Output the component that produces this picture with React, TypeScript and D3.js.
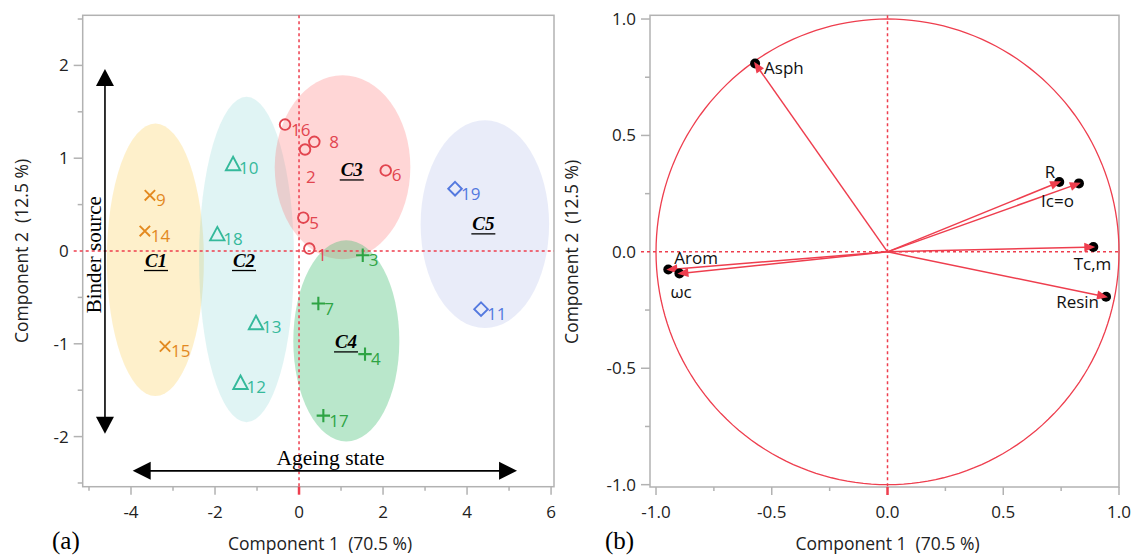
import React from "react";
import * as d3 from "d3";

const W = 1134;
const H = 557;

// (a) score plot: sample id, component 1, component 2, cluster index
const sampleIds = ["1", "2", "3", "4", "5", "6", "7", "8", "9", "10", "11", "12", "13", "14", "15", "16", "17", "18", "19"];
const sampleC1 = [0.245, 0.143, 1.517, 1.571, 0.102, 2.064, 0.46, 0.364, -3.55, -1.57, 4.333, -1.393, -1.024, -3.67, -3.19, -0.333, 0.579, -1.945, 3.714];
const sampleC2 = [0.026, 1.094, -0.046, -1.111, 0.359, 0.868, -0.566, 1.176, 0.6, 0.943, -0.627, -1.415, -0.77, 0.215, -1.028, 1.362, -1.774, 0.187, 0.671];
const sampleCluster = [2, 2, 3, 3, 2, 2, 3, 2, 0, 1, 4, 1, 1, 0, 0, 2, 3, 1, 4];

// cluster ellipses (data units)
const clusterNames = ["C1", "C2", "C3", "C4", "C5"];
const clusterCx = [-3.42, -1.25, 1.036, 1.126, 4.424];
const clusterCy = [-0.095, -0.092, 0.902, -0.969, 0.289];
const clusterRx = [1.155, 1.13, 1.614, 1.262, 1.529];
const clusterRy = [1.468, 1.753, 0.991, 1.084, 1.12];
const clusterLabelX = [-3.405, -1.31, 1.255, 1.119, 4.388];
const clusterLabelY = [-0.108, -0.108, 0.868, -0.985, 0.287];

// (b) loading plot
const loadNames = ["Asph", "R", "Ic=o", "Tc,m", "Resin", "Arom", "ωc"];
const loadX = [-0.572, 0.742, 0.827, 0.889, 0.944, -0.947, -0.899];
const loadY = [0.809, 0.3, 0.294, 0.021, -0.193, -0.076, -0.093];

// ticks
const aMajorX = [-4, -2, 0, 2, 4, 6];
const aMinorX = [-5, -3, -1, 1, 3, 5];
const aMajorY = [-2, -1, 0, 1, 2];
const aMinorY = [-2.5, -1.5, -0.5, 0.5, 1.5, 2.5];
const bMajor = [-1, -0.5, 0, 0.5, 1];
const bMinor = [-0.75, -0.25, 0.25, 0.75];

// styling
const markerColor = ["#e3891f", "#35b99b", "#e2454f", "#2ea444", "#5479df"];
const ellipseColor = ["#fcc52e", "#7fd3cf", "#ff6b6b", "#33b866", "#a7b4e6"];
const ellipseAlpha = [0.25, 0.24, 0.28, 0.34, 0.25];
const RED = "#ee3e4e";
const FRAME = "#b2b2b2";
const SANS = "'Open Sans', 'Noto Sans', sans-serif";
const SERIF = "'Liberation Serif', 'DejaVu Serif', serif";

// label placement for sample numbers [dx, dy]
const sampleLabelOffset: Record<string, [number, number]> = {
  "1": [8, 12],
  "2": [1, 34],
  "8": [15, 6],
};
// loading label placement [anchor, dx, dy]
const loadLabelPos: [string, number, number][] = [
  ["start", 9, 11],
  ["end", -4, -4],
  ["end", -5, 24],
  ["end", 18, 23],
  ["end", -7, 11],
  ["start", 6, -6],
  ["start", -9, 24],
];

const fmtA = (v: number) => String(v).replace("−", "-");
const fmtB = (v: number) => (v < 0 ? "-" : "") + Math.abs(v).toFixed(1);

function Marker({ kind, x, y, color }: { kind: number; x: number; y: number; color: string }) {
  const sw = 1.9;
  if (kind === 0) {
    const s = 5.2;
    return (
      <path d={`M${x - s},${y - s}L${x + s},${y + s}M${x - s},${y + s}L${x + s},${y - s}`} stroke={color} strokeWidth={sw} fill="none" />
    );
  }
  if (kind === 1) {
    const h = 13.5, w = 7.2;
    return (
      <path d={`M${x},${y - h / 2}L${x + w},${y + h / 2}L${x - w},${y + h / 2}Z`} stroke={color} strokeWidth={sw} fill="none" strokeLinejoin="miter" />
    );
  }
  if (kind === 2) return <circle cx={x} cy={y} r={5.3} stroke={color} strokeWidth={sw} fill="none" />;
  if (kind === 3) {
    const s = 6.7;
    return <path d={`M${x - s},${y}L${x + s},${y}M${x},${y - s}L${x},${y + s}`} stroke={color} strokeWidth={2.1} fill="none" />;
  }
  const s = 6.8;
  return <path d={`M${x},${y - s}L${x + s},${y}L${x},${y + s}L${x - s},${y}Z`} stroke={color} strokeWidth={sw} fill="none" />;
}

function Axes({ x, y, majorX, minorX, majorY, minorY, fmt }: any) {
  const [x0, x1] = x.range();
  const [y0, y1] = y.range(); // bottom, top
  return (
    <g>
      <rect x={x0} y={y1} width={x1 - x0} height={y0 - y1} fill="none" stroke={FRAME} strokeWidth={1.5} />
      {majorX.map((v: number) => (
        <g key={"mx" + v}>
          <line x1={x(v)} x2={x(v)} y1={y0} y2={y0 + 8} stroke={v === 0 ? RED : FRAME} strokeWidth={v === 0 ? 2.5 : 1.5} />
          <text x={x(v)} y={y0 + 31} textAnchor="middle" fontFamily={SANS} fontSize={17} fill="#222">
            {fmt(v)}
          </text>
        </g>
      ))}
      {minorX.map((v: number) => (
        <line key={"nx" + v} x1={x(v)} x2={x(v)} y1={y0} y2={y0 + 4} stroke={FRAME} strokeWidth={1.5} />
      ))}
      {majorY.map((v: number) => (
        <g key={"my" + v}>
          {v !== 0 && <line x1={x0 - 9} x2={x0} y1={y(v)} y2={y(v)} stroke={FRAME} strokeWidth={1.5} />}
          <text x={x0 - 14} y={y(v) + 6} textAnchor="end" fontFamily={SANS} fontSize={17} fill="#222">
            {fmt(v)}
          </text>
        </g>
      ))}
      {minorY.map((v: number) => (
        <line key={"ny" + v} x1={x0 - 5} x2={x0} y1={y(v)} y2={y(v)} stroke={FRAME} strokeWidth={1.5} />
      ))}
      {/* zero reference lines */}
      <line x1={x0 - 9} x2={x1} y1={y(0)} y2={y(0)} stroke={RED} strokeWidth={1.5} strokeDasharray="3,3" />
      <line x1={x(0)} x2={x(0)} y1={y1} y2={y0} stroke={RED} strokeWidth={1.5} strokeDasharray="3,3" />
    </g>
  );
}

function ArrowHead({ x, y, angle, len, half, color }: any) {
  const ca = Math.cos(angle), sa = Math.sin(angle);
  const bx = x - len * ca, by = y - len * sa;
  const p = `M${x},${y}L${bx - half * sa},${by + half * ca}L${bx + half * sa},${by - half * ca}Z`;
  return <path d={p} fill={color} />;
}

export default function App() {
  const xa = d3.scaleLinear().domain([-5.15, 6.07]).range([82.7, 554]);
  const ya = d3.scaleLinear().domain([-2.54, 2.54]).range([486.7, 15.3]);
  const xb = d3.scaleLinear().domain([-1.026, 1.0]).range([650, 1119]);
  const yb = d3.scaleLinear().domain([-1.01, 1.016]).range([487, 15.3]);

  const circle = d3.range(0, 361, 2).map((deg) => {
    const t = (deg * Math.PI) / 180;
    return [xb(Math.cos(t)), yb(Math.sin(t))] as [number, number];
  });
  const circlePath = d3.line()(circle) + "Z";

  // annotation arrows in (a)
  const bsX = xa(-4.62);
  const bsTop = ya(1.96);
  const bsBot = ya(-1.97);
  const agY = ya(-2.369);
  const agL = xa(-3.96);
  const agR = xa(5.19);

  return (
    <svg width={W} height={H} style={{ position: "absolute", left: 0, top: 0, background: "#fff" }}>
      {/* ---------- (a) ---------- */}
      {clusterNames.map((c, i) => (
        <ellipse
          key={c}
          cx={xa(clusterCx[i])}
          cy={ya(clusterCy[i])}
          rx={xa(clusterRx[i]) - xa(0)}
          ry={ya(0) - ya(clusterRy[i])}
          fill={ellipseColor[i]}
          fillOpacity={ellipseAlpha[i]}
        />
      ))}
      <Axes x={xa} y={ya} majorX={aMajorX} minorX={aMinorX} majorY={aMajorY} minorY={aMinorY} fmt={fmtA} />
      {sampleIds.map((id, i) => {
        const px = xa(sampleC1[i]);
        const py = ya(sampleC2[i]);
        const c = sampleCluster[i];
        const [dx, dy] = sampleLabelOffset[id] || [6, 11];
        return (
          <g key={id}>
            <Marker kind={c} x={px} y={py} color={markerColor[c]} />
            <text x={px + dx} y={py + dy} fontFamily={SANS} fontSize={17} fill={markerColor[c]}>
              {id}
            </text>
          </g>
        );
      })}
      {clusterNames.map((c, i) => {
        const lx = xa(clusterLabelX[i]);
        const ly = ya(clusterLabelY[i]);
        return (
          <g key={"l" + c}>
            <text x={lx} y={ly + 6} textAnchor="middle" fontFamily={SERIF} fontSize={19} fontWeight="bold" fontStyle="italic" fill="#000">
              {c}
            </text>
            <line x1={lx - 12} x2={lx + 12} y1={ly + 9.5} y2={ly + 9.5} stroke="#000" strokeWidth={1.3} />
          </g>
        );
      })}
      {/* Binder source arrow */}
      <line x1={bsX} x2={bsX} y1={bsTop + 14} y2={bsBot - 14} stroke="#000" strokeWidth={1.6} />
      <ArrowHead x={bsX} y={bsTop} angle={-Math.PI / 2} len={17} half={9} color="#000" />
      <ArrowHead x={bsX} y={bsBot} angle={Math.PI / 2} len={17} half={9} color="#000" />
      <text transform={`translate(${bsX - 4},${ya(-0.04)}) rotate(-90)`} textAnchor="middle" fontFamily={SERIF} fontSize={21} fill="#000">
        Binder source
      </text>
      {/* Ageing state arrow */}
      <line x1={agL + 14} x2={agR - 14} y1={agY} y2={agY} stroke="#000" strokeWidth={1.6} />
      <ArrowHead x={agL} y={agY} angle={Math.PI} len={18} half={9} color="#000" />
      <ArrowHead x={agR} y={agY} angle={0} len={18} half={9} color="#000" />
      <text x={xa(0.75)} y={agY - 6} textAnchor="middle" fontFamily={SERIF} fontSize={21.5} fill="#000">
        Ageing state
      </text>
      <text x={xa(0.5)} y={550} textAnchor="middle" fontFamily={SANS} fontSize={17.5} fill="#222" style={{ whiteSpace: "pre" }}>
        {"Component 1  (70.5 %)"}
      </text>
      <text transform={`translate(28,${ya(0)}) rotate(-90)`} textAnchor="middle" fontFamily={SANS} fontSize={17.5} fill="#222" style={{ whiteSpace: "pre" }}>
        {"Component 2  (12.5 %)"}
      </text>
      <text x={52} y={549} fontFamily={SERIF} fontSize={25} fill="#000">
        (a)
      </text>

      {/* ---------- (b) ---------- */}
      <Axes x={xb} y={yb} majorX={bMajor} minorX={bMinor} majorY={bMajor} minorY={bMinor} fmt={fmtB} />
      <path d={circlePath} fill="none" stroke={RED} strokeWidth={1.3} />
      {loadNames.map((n, i) => {
        const px = xb(loadX[i]);
        const py = yb(loadY[i]);
        const ox = xb(0), oy = yb(0);
        const ang = Math.atan2(py - oy, px - ox);
        const [anchor, dx, dy] = loadLabelPos[i];
        return (
          <g key={n}>
            <line x1={ox} y1={oy} x2={px - 8 * Math.cos(ang)} y2={py - 8 * Math.sin(ang)} stroke={RED} strokeWidth={1.5} />
            <circle cx={px} cy={py} r={5} fill="#000" />
            <ArrowHead x={px + 2 * Math.cos(ang)} y={py + 2 * Math.sin(ang)} angle={ang} len={11} half={4.5} color={RED} />
            <text x={px + dx} y={py + dy} textAnchor={anchor} fontFamily={SANS} fontSize={17} fill="#111">
              {n}
            </text>
          </g>
        );
      })}
      <text x={xb(0)} y={550} textAnchor="middle" fontFamily={SANS} fontSize={17.5} fill="#222" style={{ whiteSpace: "pre" }}>
        {"Component 1  (70.5 %)"}
      </text>
      <text transform={`translate(578,${yb(0)}) rotate(-90)`} textAnchor="middle" fontFamily={SANS} fontSize={17.5} fill="#222" style={{ whiteSpace: "pre" }}>
        {"Component 2  (12.5 %)"}
      </text>
      <text x={605} y={549} fontFamily={SERIF} fontSize={25} fill="#000">
        (b)
      </text>
    </svg>
  );
}
